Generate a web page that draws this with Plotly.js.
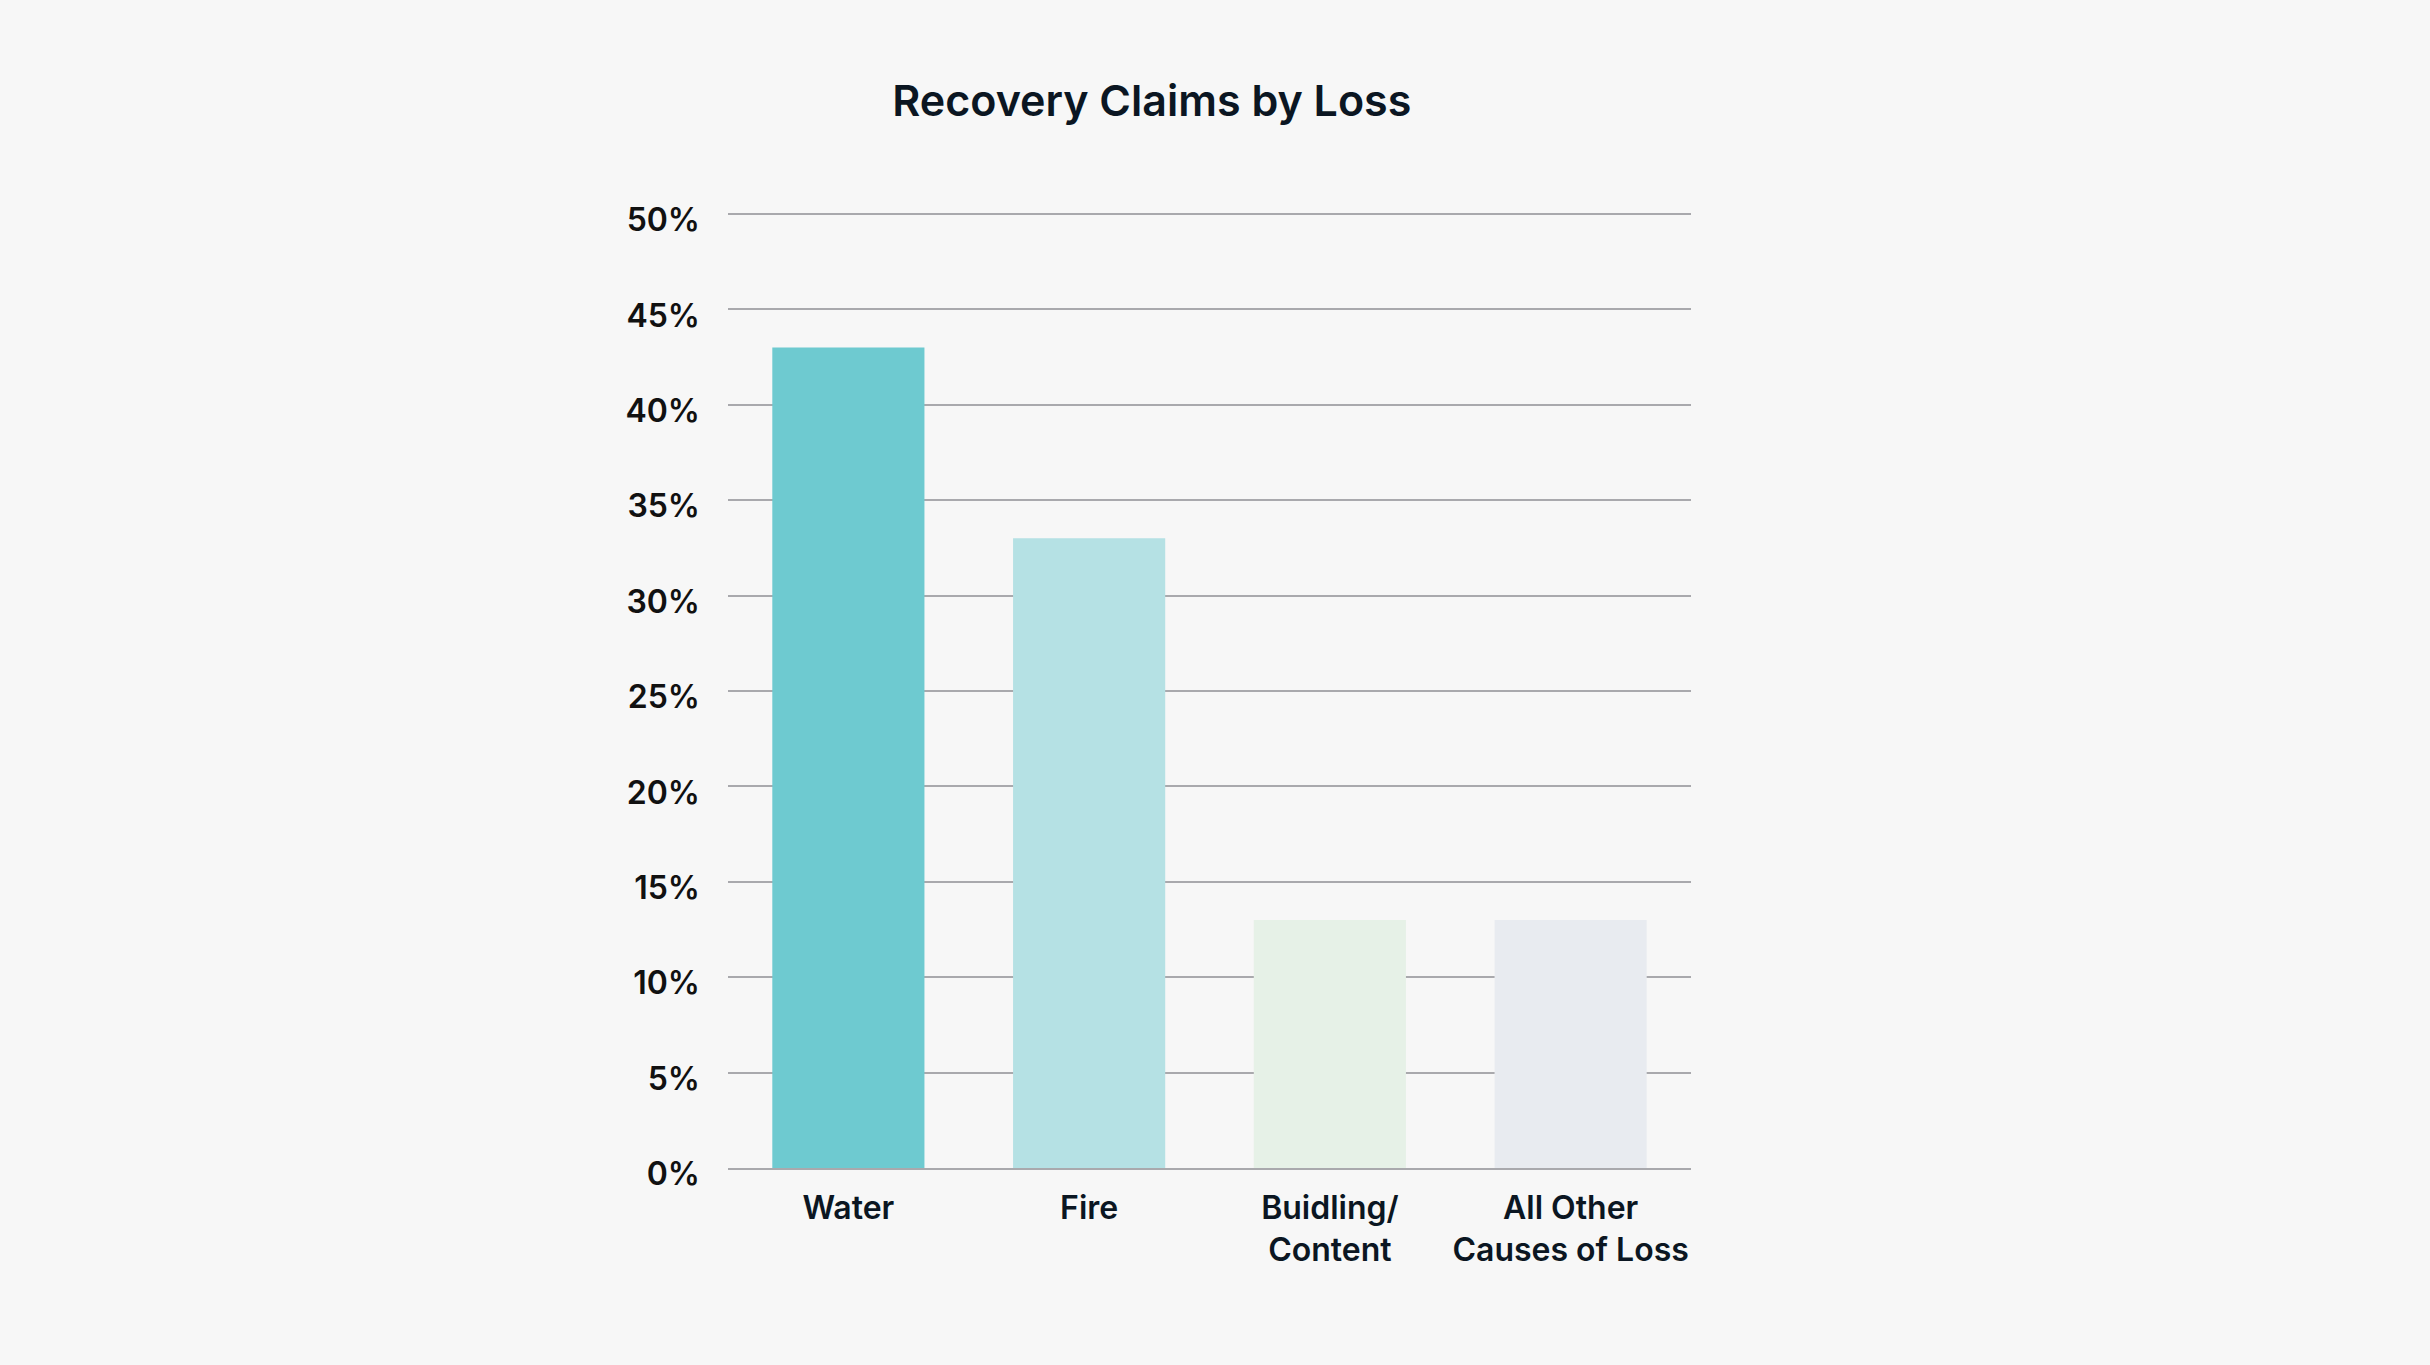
<!DOCTYPE html>
<html>
<head>
<meta charset="utf-8">
<script src="https://cdn.plot.ly/plotly-3.0.1.min.js"></script>
<style>html,body{margin:0;padding:0;background:#F7F7F7;}#chart{width:2430px;height:1365px;}</style>
</head>
<body>
<div id="chart"></div>
<script>
const categories = ["Water", "Fire", "Buidling/<br>Content", "All Other<br>Causes of Loss"];
const values = [43, 33, 13, 13];
const barColors = ["#6ECAD0", "#B5E1E4", "#E6F1E7", "#E8EBF0"];
const yTicks = [0, 5, 10, 15, 20, 25, 30, 35, 40, 45, 50];

const trace = {
  type: "bar",
  x: categories,
  y: values,
  marker: {color: barColors, line: {width: 0}},
  hoverinfo: "none"
};

const layout = {
  width: 2430,
  height: 1365,
  paper_bgcolor: "#F7F7F7",
  plot_bgcolor: "#F7F7F7",
  margin: {l: 728, r: 739, t: 212, b: 197},
  showlegend: false,
  bargap: 0.368,
  title: {
    text: "Recovery Claims by Loss",
    x: 0.474, xanchor: "center",
    y: 1 - 101/1365, yanchor: "middle",
    font: {family: "Inter, 'Open Sans', sans-serif", size: 43, color: "#0B1622", weight: 600}
  },
  xaxis: {
    type: "category",
    showgrid: false,
    showline: true,
    linecolor: "#A9A9AD",
    linewidth: 2,
    zeroline: false,
    ticks: "",
    ticklabelstandoff: 11,
    tickfont: {family: "Inter, 'Open Sans', sans-serif", size: 32, color: "#0B1622", weight: 600}
  },
  yaxis: {
    range: [0, 50.1],
    tickvals: yTicks,
    ticktext: yTicks.map(v => v + "%"),
    showgrid: true,
    gridcolor: "#A9A9AD",
    gridwidth: 2,
    zeroline: false,
    showline: false,
    ticks: "",
    ticklabelstandoff: 27,
    ticklabelshift: 6,
    tickfont: {family: "Inter, 'Open Sans', sans-serif", size: 32, color: "#111111", weight: 600}
  }
};

Plotly.newPlot("chart", [trace], layout, {displayModeBar: false, staticPlot: true});
</script>
</body>
</html>
